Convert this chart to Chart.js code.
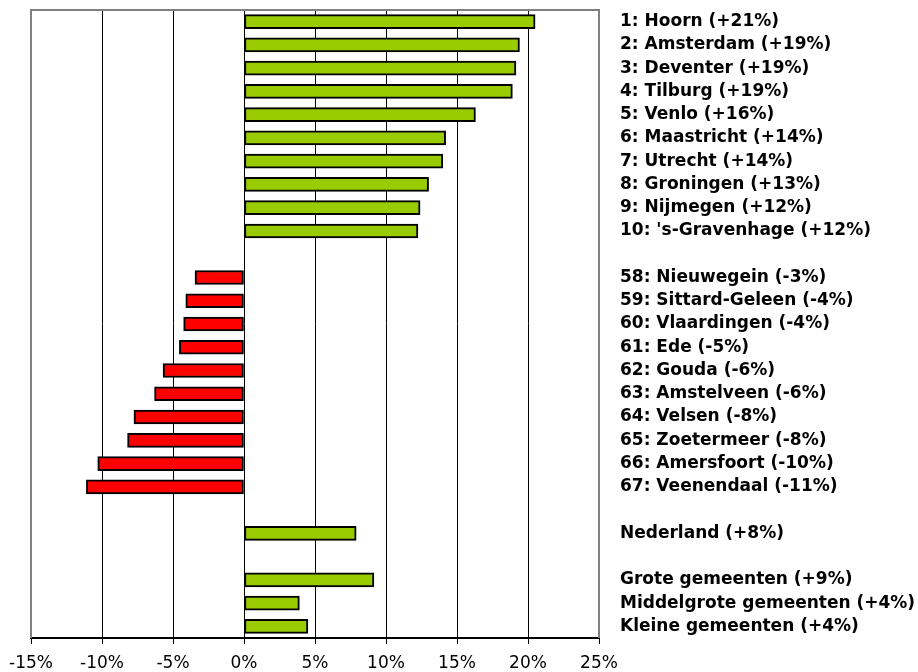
<!DOCTYPE html>
<html lang="nl">
<head>
  <meta charset="UTF-8" />
  <title>Gemeenten</title>
  <script src="https://cdn.jsdelivr.net/npm/chart.js"></script>
  <style>
    html, body { margin: 0; padding: 0; background: #fff; }
    #wrap { width: 918px; height: 672px; }
  </style>
</head>
<body>
  <div id="wrap"><canvas id="chart" width="918" height="672"></canvas></div>
  <script>
  // categories (empty strings are the blank rows between groups)
  const labels = [
    "1: Hoorn (+21%)", "2: Amsterdam (+19%)", "3: Deventer (+19%)", "4: Tilburg (+19%)",
    "5: Venlo (+16%)", "6: Maastricht (+14%)", "7: Utrecht (+14%)", "8: Groningen (+13%)",
    "9: Nijmegen (+12%)", "10: 's-Gravenhage (+12%)",
    "",
    "58: Nieuwegein (-3%)", "59: Sittard-Geleen (-4%)", "60: Vlaardingen (-4%)", "61: Ede (-5%)",
    "62: Gouda (-6%)", "63: Amstelveen (-6%)", "64: Velsen (-8%)", "65: Zoetermeer (-8%)",
    "66: Amersfoort (-10%)", "67: Veenendaal (-11%)",
    "",
    "Nederland (+8%)",
    "",
    "Grote gemeenten (+9%)", "Middelgrote gemeenten (+4%)", "Kleine gemeenten (+4%)"
  ];

  const values = [
    20.5, 19.4, 19.15, 18.9, 16.3, 14.2, 14.0, 13.0, 12.4, 12.25,
    null,
    -3.45, -4.1, -4.25, -4.55, -5.7, -6.3, -7.75, -8.2, -10.3, -11.1,
    null,
    7.9,
    null,
    9.15, 3.9, 4.5
  ];

  const xTicks = [-15, -10, -5, 0, 5, 10, 15, 20, 25];

  const GREEN = "#99CC00";
  const RED = "#FF0000";

  const framePlugin = {
    id: "frame",
    afterDraw(chart) {
      const { ctx, chartArea: a } = chart;
      ctx.save();
      ctx.strokeStyle = "#808080";
      ctx.lineWidth = 2;
      ctx.beginPath();
      ctx.moveTo(a.left, a.bottom);
      ctx.lineTo(a.left, a.top);
      ctx.lineTo(a.right, a.top);
      ctx.lineTo(a.right, a.bottom);
      ctx.stroke();
      ctx.restore();
    }
  };

  new Chart(document.getElementById("chart"), {
    type: "bar",
    data: {
      labels,
      datasets: [{
        data: values,
        backgroundColor: values.map(v => v < 0 ? RED : GREEN),
        borderColor: "#000",
        borderWidth: 2,
        borderSkipped: false,
        barThickness: 14
      }]
    },
    options: {
      indexAxis: "y",
      responsive: false,
      animation: false,
      layout: { padding: { left: 31, top: 10, right: 0, bottom: 0 } },
      plugins: { legend: { display: false }, tooltip: { enabled: false } },
      scales: {
        x: {
          min: -15,
          max: 25,
          afterBuildTicks: s => { s.ticks = xTicks.map(v => ({ value: v })); },
          afterFit: s => { s.height = 34; },
          grid: { color: "#000", lineWidth: 1, tickLength: 6, tickColor: "#000" },
          border: { color: "#000", width: 2 },
          ticks: {
            color: "#000",
            font: { family: "DejaVu Sans", size: 17 },
            padding: 9,
            maxRotation: 0,
            callback: v => v + "%"
          }
        },
        y: {
          position: "right",
          grid: { display: false, drawTicks: false },
          border: { display: false },
          afterFit: s => { s.width = 319; s.paddingTop = 0; s.paddingBottom = 0; },
          ticks: {
            color: "#000",
            autoSkip: false,
            padding: 21,
            font: { family: "DejaVu Sans", size: 17, weight: "bold" }
          }
        }
      }
    },
    plugins: [framePlugin]
  });
  </script>
</body>
</html>
